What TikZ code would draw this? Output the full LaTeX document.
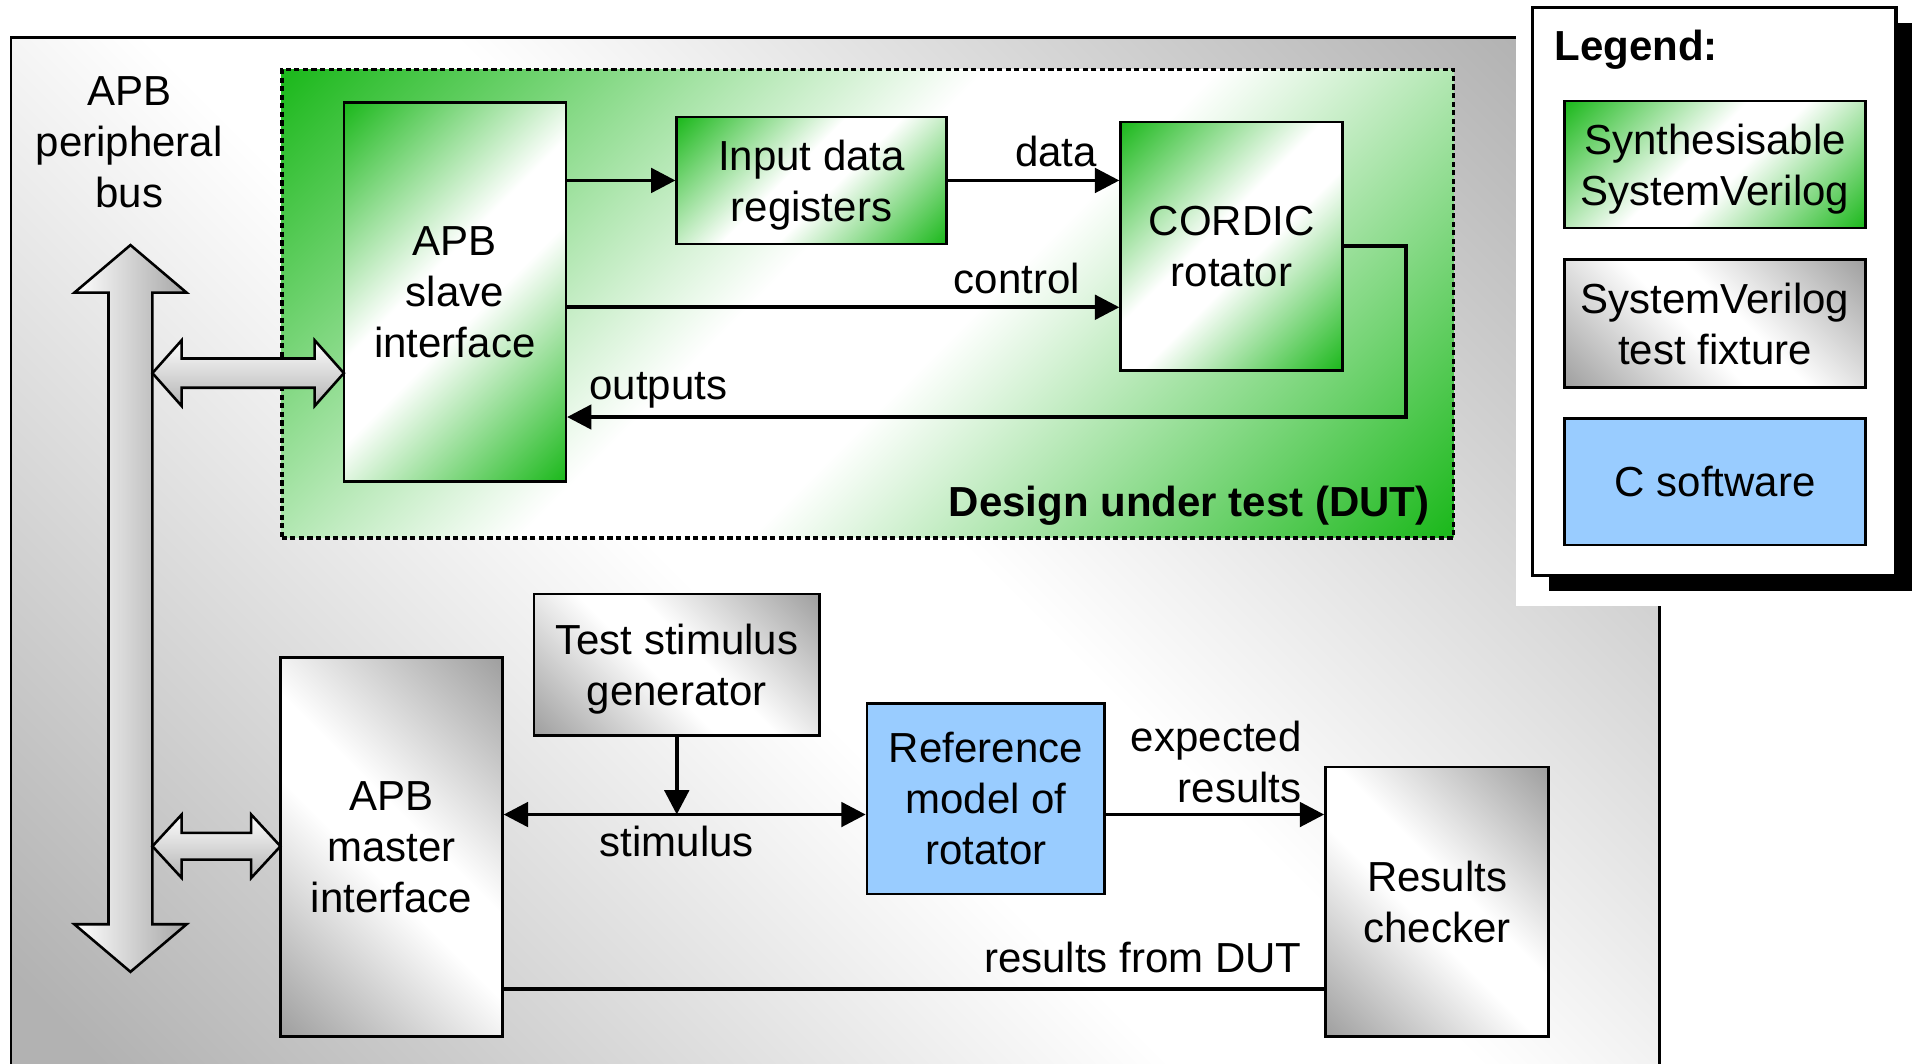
\documentclass[tikz,border=0pt]{standalone}
\usepackage{fontspec}
\setmainfont{Liberation Sans}
\usetikzlibrary{arrows.meta,calc,shadows}
\definecolor{dgreen}{RGB}{30,185,30}
\definecolor{dgray}{RGB}{160,160,160}
\definecolor{bggray}{RGB}{178,178,178}
\definecolor{lblue}{RGB}{153,204,255}
\pgfdeclarehorizontalshading{greendiag}{100bp}{color(0bp)=(dgreen); color(15bp)=(dgreen); color(45bp)=(white); color(55bp)=(white); color(85bp)=(dgreen); color(100bp)=(dgreen)}
\pgfdeclarehorizontalshading{graydiag}{100bp}{color(0bp)=(dgray); color(15bp)=(dgray); color(45bp)=(white); color(55bp)=(white); color(85bp)=(dgray); color(100bp)=(dgray)}
\pgfdeclarehorizontalshading{bgdiag}{100bp}{color(0bp)=(bggray); color(18bp)=(bggray); color(46bp)=(white); color(54bp)=(white); color(82bp)=(bggray); color(100bp)=(bggray)}
\newcommand\diafont{\fontsize{9.8}{11.9}\selectfont}
\begin{document}
\begin{tikzpicture}[x=0.1mm, y=-0.1mm,
  every node/.style={font=\diafont, inner sep=0pt},
  box/.style={draw=black, line width=0.6pt, align=center, text depth=-1pt},
  synth/.style={box, shade, shading=greendiag, shading angle=-45},
  fixture/.style={box, shade, shading=graydiag, shading angle=45},
  csw/.style={box, fill=lblue},
  arr/.style={line width=0.9pt, -{Triangle[length=2mm,width=2mm]}},
  darr/.style={line width=0.9pt, {Triangle[length=2mm,width=2mm]}-{Triangle[length=2mm,width=2mm]}},
  wire/.style={line width=0.9pt},
  barrowv/.style={draw=black, line width=0.6pt, left color=white, right color=black!35},
  barrowh/.style={draw=black, line width=0.6pt, top color=white, bottom color=black!30}]
\useasboundingbox (0,0) rectangle (1568,872);
\clip (0,0) rectangle (1568,872);
% outer test-fixture area
\draw[line width=0.6pt, shade, shading=bgdiag, shading angle=45] (9,31) rectangle (1361,910);
% legend area
\fill[white] (1243,0) rectangle (1568,497);
\node[draw=black, line width=0.8pt, fill=white, minimum width=29.8mm, minimum height=46.6mm,
  drop shadow={shadow xshift=1.3mm, shadow yshift=-1.3mm, fill=black, opacity=1}] (legend) at (1406,239) {};
\node[anchor=west, font=\diafont\bfseries] (legtitle) at (1274,41) {Legend:};
\node[synth, minimum width=24.7mm, minimum height=10.4mm] (leg1) at (1406.5,135) {Synthesisable\\SystemVerilog};
\node[fixture, minimum width=24.7mm, minimum height=10.5mm] (leg2) at (1406.5,265.5) {SystemVerilog\\test fixture};
\node[csw, minimum width=24.7mm, minimum height=10.4mm] (leg3) at (1406.5,395) {C software};
% DUT
\node[draw=black, line width=0.9pt, dash pattern=on 1.2pt off 0.8pt, shade, shading=greendiag, shading angle=-45,
  minimum width=96.1mm, minimum height=38.4mm] (dut) at (711.5,249) {};
\node[anchor=east, font=\diafont\bfseries] (dutlbl) at (1173,415) {Design under test (DUT)};
\node[synth, minimum width=18.2mm, minimum height=31.1mm] (slave) at (373,239.5) {APB\\slave\\interface};
\node[synth, minimum width=22.1mm, minimum height=10.4mm] (inreg) at (665.5,148) {Input data\\registers};
\node[synth, minimum width=18.2mm, minimum height=20.4mm] (cordic) at (1010,202) {CORDIC\\rotator};
% test fixture blocks
\node[fixture, minimum width=18.2mm, minimum height=31.1mm] (master) at (321,694.5) {APB\\master\\interface};
\node[fixture, minimum width=23.4mm, minimum height=11.6mm] (stimgen) at (555,545) {Test stimulus\\generator};
\node[csw, minimum width=19.5mm, minimum height=15.6mm] (refmodel) at (808.5,655) {Reference\\model of\\rotator};
\node[fixture, minimum width=18.3mm, minimum height=22.1mm] (checker) at (1178.5,739.5) {Results\\checker};
% bus
\node[align=center] (buslbl) at (106,117) {APB\\peripheral\\bus};
\draw[barrowv] (107,201) -- (153,240) -- (125,240) -- (125,758) -- (153,758) -- (107,797)
  -- (61,758) -- (89,758) -- (89,240) -- (61,240) -- cycle;
\draw[barrowh] (125,306) -- (149,279) -- (149,294) -- (258,294) -- (258,279) -- (282,306)
  -- (258,333) -- (258,318) -- (149,318) -- (149,333) -- cycle;
\draw[barrowh] (125,694) -- (149,668) -- (149,683) -- (206,683) -- (206,668) -- (230,694)
  -- (206,720) -- (206,705) -- (149,705) -- (149,720) -- cycle;
% DUT connectors
\coordinate (ctl) at (700,252);
\coordinate (outc) at (1153,342);
\draw[arr] (slave.east |- inreg.west) -- (inreg.west);
\draw[arr] (inreg.east) -- (cordic.west |- inreg.east);
\draw[arr] (slave.east |- ctl) -- (cordic.west |- ctl);
\draw[arr] (cordic.east) -| (outc) -- (slave.east |- outc);
\node (datalbl) at (866,124) {data};
\node (ctllbl) at (834,228) {control};
\node (outlbl) at (540,320) {outputs};
% fixture connectors
\coordinate (stim) at (555,668);
\coordinate (rdut) at (700,811);
\draw[darr] (master.east |- stim) -- (refmodel.west |- stim);
\draw[arr] (stimgen.south) -- (stim);
\draw[arr] (refmodel.east |- stim) -- (checker.west |- stim);
\draw[wire] (master.east |- rdut) -- (checker.west |- rdut);
\node (stimlbl) at (555,690) {stimulus};
\node[anchor=east, align=right] (explbl) at (1068,624.5) {expected\\results};
\node[anchor=east] (rdlbl) at (1068,785) {results from DUT};
\end{tikzpicture}
\end{document}
